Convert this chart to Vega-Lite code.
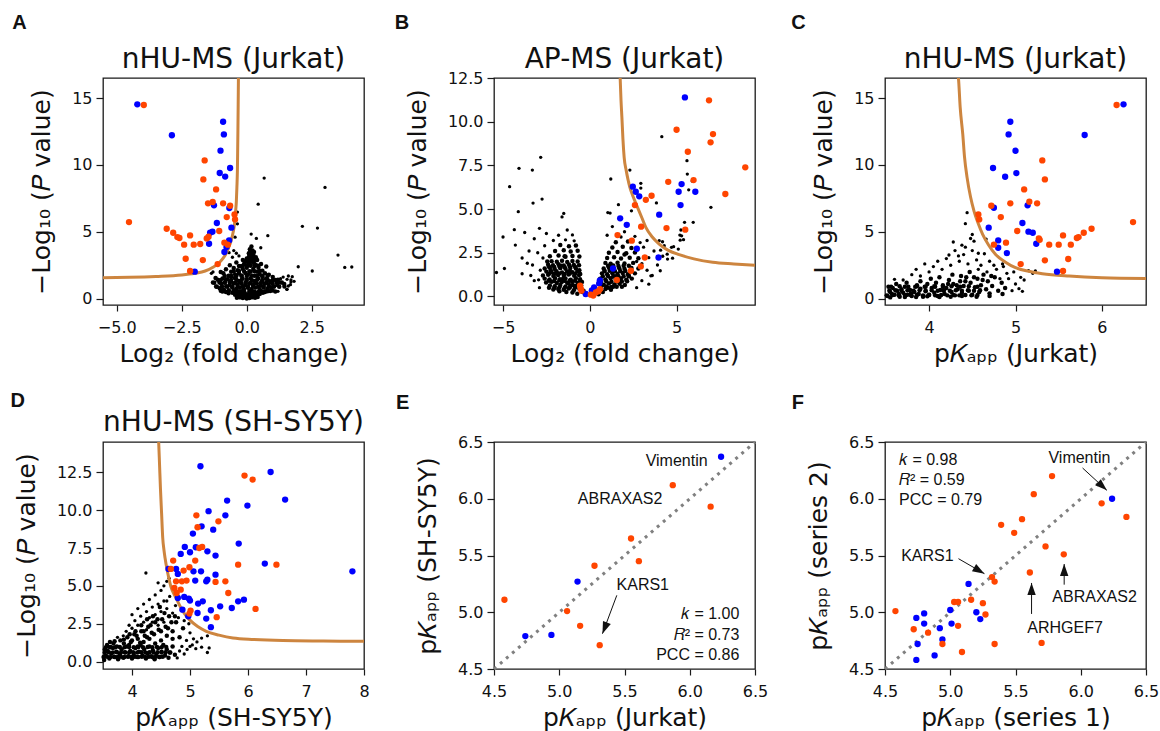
{
"$schema": "https://vega.github.io/schema/vega-lite/v6.json",
"background": "white",
"padding": {"left": 9, "top": 12, "right": 5, "bottom": 0},
"columns": 3,
"spacing": {"row": 137, "column": 130},
"bounds": "flush",
"datasets": {
"A_k": [{"x":-0.55,"y":0.45},{"x":-0.45,"y":0.3},{"x":-0.4,"y":0.52},{"x":-0.35,"y":0.2},{"x":-0.3,"y":0.4},{"x":-0.25,"y":0.1},{"x":-0.2,"y":0.3},{"x":-0.15,"y":0.05},{"x":-0.1,"y":0.22},{"x":-0.05,"y":0.1},{"x":0,"y":0.02},{"x":0.05,"y":0.15},{"x":0.1,"y":0.05},{"x":0.15,"y":0.25},{"x":0.2,"y":0.1},{"x":0.25,"y":0.35},{"x":0.3,"y":0.2},{"x":0.35,"y":0.42},{"x":0.4,"y":0.28},{"x":0.45,"y":0.5},{"x":0.5,"y":0.35},{"x":0.55,"y":0.58},{"x":-0.5,"y":0.62},{"x":0.62,"y":0.45},{"x":-0.2,"y":0.56},{"x":0.1,"y":0.46},{"x":-0.05,"y":0.36},{"x":0.2,"y":0.52},{"x":0.32,"y":0.08},{"x":-0.28,"y":0.12},{"x":0.03,"y":0.28},{"x":-0.12,"y":0.42},{"x":0.18,"y":0.38},{"x":-0.38,"y":0.08},{"x":0.42,"y":0.12},
{"x":-1.3,"y":1.22},{"x":-1.18,"y":0.92},{"x":-1.12,"y":1.42},{"x":-1.04,"y":0.78},{"x":-0.98,"y":1.12},{"x":-0.93,"y":1.52},{"x":-0.88,"y":0.68},{"x":-0.84,"y":1.24},{"x":-0.79,"y":0.94},{"x":-0.74,"y":1.46},{"x":-0.69,"y":0.64},{"x":-0.66,"y":1.02},{"x":-0.61,"y":1.31},{"x":-0.56,"y":0.83},{"x":-0.51,"y":1.13},{"x":-0.46,"y":1.55},{"x":-0.41,"y":0.72},{"x":-0.36,"y":1.04},{"x":-0.31,"y":1.33},{"x":-0.26,"y":0.84},{"x":-0.21,"y":1.14},{"x":-0.16,"y":1.52},{"x":-0.11,"y":0.73},{"x":-0.06,"y":1.03},{"x":-0.01,"y":1.34},{"x":0.04,"y":0.82},{"x":0.09,"y":1.12},{"x":0.14,"y":1.53},{"x":0.19,"y":0.72},{"x":0.24,"y":1.02},{"x":0.29,"y":1.33},{"x":0.34,"y":0.84},{"x":0.39,"y":1.13},{"x":0.44,"y":1.52},{"x":0.49,"y":0.73},{"x":0.54,"y":1.03},{"x":0.59,"y":1.32},{"x":0.64,"y":0.83},{"x":0.69,"y":1.12},{"x":0.74,"y":1.5},{"x":0.79,"y":0.76},{"x":0.84,"y":1.04},{"x":0.89,"y":1.3},{"x":0.94,"y":0.86},{"x":0.99,"y":1.16},{"x":1.04,"y":0.92},{"x":1.1,"y":1.4},{"x":1.18,"y":1.02},{"x":1.28,"y":1.22},{"x":1.44,"y":1.1},{"x":-1.2,"y":1.55},{"x":-0.6,"y":1.62},{"x":0.6,"y":1.66},{"x":1.0,"y":1.62},{"x":-1.0,"y":0.6},{"x":-0.8,"y":0.5},{"x":0.8,"y":0.55},{"x":1.0,"y":0.62},{"x":0.7,"y":0.5},{"x":-0.7,"y":0.4},
{"x":-0.9,"y":1.9},{"x":-0.8,"y":2.2},{"x":-0.7,"y":1.72},{"x":-0.65,"y":2.5},{"x":-0.6,"y":2.02},{"x":-0.5,"y":2.3},{"x":-0.45,"y":1.82},{"x":-0.4,"y":2.7},{"x":-0.35,"y":2.12},{"x":-0.3,"y":1.88},{"x":-0.25,"y":2.42},{"x":-0.2,"y":1.72},{"x":-0.15,"y":2.22},{"x":-0.1,"y":2.62},{"x":-0.05,"y":1.92},{"x":0,"y":2.32},{"x":0.05,"y":1.82},{"x":0.1,"y":2.52},{"x":0.15,"y":2.02},{"x":0.2,"y":2.8},{"x":0.25,"y":2.22},{"x":0.3,"y":1.72},{"x":0.35,"y":2.52},{"x":0.4,"y":2.02},{"x":0.45,"y":2.32},{"x":0.5,"y":1.82},{"x":0.55,"y":2.6},{"x":0.6,"y":2.1},{"x":0.7,"y":1.9},{"x":0.75,"y":2.4},{"x":0.85,"y":1.8},{"x":-1.0,"y":2.0},
{"x":0.05,"y":2.9},{"x":0.1,"y":3.2},{"x":0.15,"y":3.5},{"x":0.2,"y":3.0},{"x":0.25,"y":3.3},{"x":0.3,"y":2.9},{"x":0.12,"y":3.7},{"x":0.18,"y":3.9},{"x":0.22,"y":3.6},{"x":0.08,"y":3.4},{"x":0.28,"y":3.5},{"x":0.0,"y":3.0},{"x":-0.05,"y":2.8},{"x":0.35,"y":3.1},{"x":0.4,"y":2.9},{"x":-0.15,"y":2.9},{"x":0.16,"y":3.05},{"x":0.24,"y":2.7},{"x":0.1,"y":2.75},
{"x":-0.9,"y":0.55},{"x":-0.7,"y":0.57},{"x":-0.5,"y":0.54},{"x":-0.3,"y":0.56},{"x":-0.1,"y":0.55},{"x":0.1,"y":0.57},{"x":0.3,"y":0.54},{"x":0.5,"y":0.56},{"x":0.7,"y":0.55},{"x":0.9,"y":0.57},{"x":1.1,"y":0.54},
{"x":-1.15,"y":0.9},{"x":-0.95,"y":0.92},{"x":-0.75,"y":0.89},{"x":-0.55,"y":0.91},{"x":-0.35,"y":0.9},{"x":-0.15,"y":0.92},{"x":0.05,"y":0.89},{"x":0.25,"y":0.91},{"x":0.45,"y":0.9},{"x":0.65,"y":0.92},{"x":0.85,"y":0.89},{"x":1.05,"y":0.91},{"x":1.25,"y":0.9},{"x":1.45,"y":0.92},
{"x":-1.25,"y":1.2},{"x":-1.05,"y":1.22},{"x":-0.85,"y":1.19},{"x":-0.65,"y":1.21},{"x":-0.45,"y":1.2},{"x":-0.25,"y":1.22},{"x":-0.05,"y":1.19},{"x":0.15,"y":1.21},{"x":0.35,"y":1.2},{"x":0.55,"y":1.22},{"x":0.75,"y":1.19},{"x":0.95,"y":1.21},{"x":1.15,"y":1.2},{"x":1.35,"y":1.22},
{"x":-1.0,"y":1.4},{"x":-0.8,"y":1.42},{"x":-0.6,"y":1.39},{"x":-0.4,"y":1.41},{"x":-0.2,"y":1.4},{"x":0,"y":1.42},{"x":0.2,"y":1.39},{"x":0.4,"y":1.41},{"x":0.6,"y":1.4},{"x":0.8,"y":1.42},{"x":1.0,"y":1.39},{"x":1.2,"y":1.41},
{"x":-0.85,"y":1.7},{"x":-0.6,"y":1.72},{"x":-0.4,"y":1.69},{"x":-0.2,"y":1.71},{"x":0,"y":1.7},{"x":0.2,"y":1.72},{"x":0.4,"y":1.69},{"x":0.6,"y":1.71},{"x":0.8,"y":1.7},
{"x":-0.5,"y":2.05},{"x":-0.3,"y":2.07},{"x":-0.1,"y":2.04},{"x":0.1,"y":2.06},{"x":0.3,"y":2.05},{"x":0.5,"y":2.07},
{"x":-0.3,"y":2.45},{"x":-0.15,"y":2.47},{"x":0,"y":2.44},{"x":0.15,"y":2.46},{"x":0.3,"y":2.45},{"x":0.45,"y":2.47},
{"x":0.12,"y":2.95},{"x":0.22,"y":3.15},{"x":0.08,"y":3.1},{"x":0.18,"y":3.3},{"x":0.26,"y":3.05},{"x":0.14,"y":3.6},{"x":0.2,"y":3.45},{"x":0.06,"y":2.65},{"x":0.3,"y":2.6}],
"A_ks": [{"x":1.6,"y":0.95},{"x":1.55,"y":1.45},{"x":1.4,"y":1.62},{"x":1.7,"y":1.25},{"x":-1.36,"y":1.9},{"x":-1.3,"y":2.0},{"x":1.6,"y":1.7},{"x":1.7,"y":1.4},{"x":1.55,"y":0.7},{"x":1.2,"y":0.55},{"x":-0.95,"y":0.5},{"x":-0.3,"y":3.2},{"x":-0.4,"y":3.4},
{"x":-0.36,"y":6.48},{"x":-0.36,"y":5.6},{"x":-0.45,"y":4.6},{"x":-0.5,"y":3.6},{"x":-0.55,"y":3.1},{"x":-0.68,"y":3.44},
{"x":0.67,"y":9.02},{"x":3.01,"y":8.32},{"x":0.44,"y":7.07},{"x":2.14,"y":5.41},{"x":2.72,"y":5.28},{"x":0.81,"y":4.71},{"x":0.17,"y":4.83},{"x":0.37,"y":4.51},{"x":0.54,"y":3.81},{"x":3.51,"y":3.26},{"x":1.98,"y":2.39},{"x":2.52,"y":2.07},{"x":3.77,"y":2.34},{"x":4.04,"y":2.37},{"x":1.54,"y":0.7},{"x":1.3,"y":1.5},{"x":1.75,"y":1.65},{"x":1.68,"y":1.05},{"x":1.82,"y":1.3}],
"A_curve": [{"x":-5.53,"y":1.57},{"x":-4.5,"y":1.6},{"x":-3.5,"y":1.66},{"x":-2.5,"y":1.77},{"x":-2.0,"y":1.9},{"x":-1.6,"y":2.07},{"x":-1.3,"y":2.35},{"x":-1.06,"y":2.69},{"x":-0.9,"y":3.05},{"x":-0.8,"y":3.35},{"x":-0.7,"y":3.8},{"x":-0.6,"y":4.35},{"x":-0.52,"y":5.0},{"x":-0.47,"y":5.6},{"x":-0.43,"y":6.5},{"x":-0.4,"y":7.3},{"x":-0.38,"y":8.3},{"x":-0.36,"y":9.6},{"x":-0.35,"y":11.0},{"x":-0.34,"y":12.6},{"x":-0.33,"y":14.5},{"x":-0.32,"y":16.6},{"x":-0.315,"y":17.5}],
"A_c": [{"x":-4.21,"y":14.53,"g":"b"},{"x":-2.88,"y":12.22,"g":"b"},{"x":-0.91,"y":13.23,"g":"b"},{"x":-0.88,"y":12.28,"g":"b"},{"x":-1.01,"y":11.07,"g":"b"},{"x":-0.64,"y":9.77,"g":"b"},{"x":-1.04,"y":9.4,"g":"b"},{"x":-0.83,"y":9.13,"g":"b"},{"x":-1.26,"y":6.98,"g":"b"},{"x":-0.67,"y":6.78,"g":"b"},{"x":-1.15,"y":5.66,"g":"b"},{"x":-0.59,"y":5.31,"g":"b"},{"x":-1.32,"y":5.01,"g":"b"},{"x":-1.41,"y":4.93,"g":"b"},{"x":-0.68,"y":4.36,"g":"b"},{"x":-1.45,"y":4.11,"g":"b"},{"x":-0.78,"y":3.86,"g":"b"},{"x":-0.86,"y":3.49,"g":"b"},{"x":-2.0,"y":2.02,"g":"b"},
{"x":-3.96,"y":14.48,"g":"o"},{"x":-1.62,"y":10.34,"g":"o"},{"x":-1.67,"y":8.92,"g":"o"},{"x":-1.18,"y":8.17,"g":"o"},{"x":-1.49,"y":7.13,"g":"o"},{"x":-1.31,"y":7.23,"g":"o"},{"x":-0.91,"y":7.13,"g":"o"},{"x":-0.64,"y":6.95,"g":"o"},{"x":-0.47,"y":6.3,"g":"o"},{"x":-0.45,"y":5.93,"g":"o"},{"x":-0.77,"y":6.1,"g":"o"},{"x":-1.06,"y":5.06,"g":"o"},{"x":-4.53,"y":5.73,"g":"o"},{"x":-3.08,"y":5.23,"g":"o"},{"x":-2.83,"y":4.93,"g":"o"},{"x":-2.67,"y":4.61,"g":"o"},{"x":-2.59,"y":4.54,"g":"o"},{"x":-2.18,"y":4.73,"g":"o"},{"x":-2.41,"y":4.04,"g":"o"},{"x":-2.04,"y":4.04,"g":"o"},{"x":-1.79,"y":4.09,"g":"o"},{"x":-1.54,"y":4.51,"g":"o"},{"x":-1.47,"y":4.63,"g":"o"},{"x":-0.86,"y":4.19,"g":"o"},{"x":-0.73,"y":4.04,"g":"o"},{"x":-2.35,"y":2.99,"g":"o"},{"x":-1.69,"y":2.89,"g":"o"},{"x":-1.12,"y":2.59,"g":"o"},{"x":-2.18,"y":2.07,"g":"o"}],
"B_k": [{"x":-1.0,"y":0.22},{"x":-0.72,"y":0.15},{"x":-0.42,"y":0.25},{"x":-0.26,"y":0.1},{"x":-1.82,"y":0.42},{"x":-1.5,"y":0.38},{"x":-1.22,"y":0.45},{"x":-0.92,"y":0.36},{"x":-0.6,"y":0.44},{"x":-0.36,"y":0.33},{"x":-2.3,"y":0.62},{"x":-2.02,"y":0.58},{"x":-1.7,"y":0.66},{"x":-1.4,"y":0.57},{"x":-1.12,"y":0.63},{"x":-0.82,"y":0.6},{"x":-0.5,"y":0.64},{"x":-2.52,"y":0.8},{"x":-2.2,"y":0.84},{"x":-1.9,"y":0.77},{"x":-1.62,"y":0.83},{"x":-1.3,"y":0.78},{"x":-1.02,"y":0.85},{"x":-0.7,"y":0.79},{"x":-0.45,"y":0.82},{"x":-2.6,"y":1.02},{"x":-2.32,"y":0.97},{"x":-2.0,"y":1.04},{"x":-1.72,"y":0.98},{"x":-1.4,"y":1.03},{"x":-1.1,"y":0.96},{"x":-0.8,"y":1.04},{"x":-0.56,"y":0.98},{"x":-2.7,"y":1.2},{"x":-2.4,"y":1.24},{"x":-2.1,"y":1.17},{"x":-1.82,"y":1.22},{"x":-1.5,"y":1.18},{"x":-1.22,"y":1.25},{"x":-0.9,"y":1.19},{"x":-0.62,"y":1.22},{"x":-2.5,"y":1.42},{"x":-2.2,"y":1.38},{"x":-1.92,"y":1.44},{"x":-1.6,"y":1.37},{"x":-1.3,"y":1.43},{"x":-1.0,"y":1.39},{"x":-0.72,"y":1.42},{"x":-2.6,"y":1.6},{"x":-2.3,"y":1.64},{"x":-2.02,"y":1.57},{"x":-1.7,"y":1.62},{"x":-1.4,"y":1.58},{"x":-1.12,"y":1.63},{"x":-0.8,"y":1.6},{"x":-2.4,"y":1.82},{"x":-2.12,"y":1.78},{"x":-1.8,"y":1.84},{"x":-1.5,"y":1.77},{"x":-1.2,"y":1.83},{"x":-0.92,"y":1.8},{"x":-0.62,"y":1.78},{"x":-2.2,"y":2.02},{"x":-1.9,"y":1.98},{"x":-1.6,"y":2.04},{"x":-1.3,"y":1.97},{"x":-1.0,"y":2.03},{"x":-0.7,"y":2.0},{"x":-2.3,"y":2.3},{"x":-1.8,"y":2.34},{"x":-1.4,"y":2.27},{"x":-1.0,"y":2.32},{"x":-0.6,"y":2.28},{"x":-2.0,"y":2.6},{"x":-1.5,"y":2.64},{"x":-1.1,"y":2.57},{"x":-0.7,"y":2.62},{"x":-1.7,"y":2.94},{"x":-1.2,"y":2.87},{"x":-0.8,"y":2.92},
{"x":-2.35,"y":0.5},{"x":-2.05,"y":0.48},{"x":-1.75,"y":0.52},{"x":-1.45,"y":0.49},{"x":-1.15,"y":0.51},{"x":-0.85,"y":0.5},{"x":-0.55,"y":0.48},
{"x":-2.35,"y":0.9},{"x":-2.05,"y":0.88},{"x":-1.75,"y":0.92},{"x":-1.45,"y":0.89},{"x":-1.15,"y":0.91},{"x":-0.85,"y":0.9},{"x":-0.55,"y":0.88},
{"x":-2.35,"y":1.3},{"x":-2.05,"y":1.28},{"x":-1.75,"y":1.32},{"x":-1.45,"y":1.29},{"x":-1.15,"y":1.31},{"x":-0.85,"y":1.3},{"x":-0.55,"y":1.28},
{"x":-2.35,"y":1.7},{"x":-2.05,"y":1.68},{"x":-1.75,"y":1.72},{"x":-1.45,"y":1.69},{"x":-1.15,"y":1.71},{"x":-0.85,"y":1.7},{"x":-0.6,"y":1.5},
{"x":-1.75,"y":0.3},{"x":-1.35,"y":0.25},{"x":-2.1,"y":0.4},{"x":-1.55,"y":1.0},{"x":-1.85,"y":1.3},{"x":-1.25,"y":0.75},{"x":-1.65,"y":1.75},{"x":-1.15,"y":1.45},{"x":-2.25,"y":1.5},{"x":-0.98,"y":0.65},{"x":-1.45,"y":2.3},{"x":-2.45,"y":2.0},
{"x":0.2,"y":0.16},{"x":0.5,"y":0.12},{"x":0.32,"y":0.42},{"x":0.6,"y":0.37},{"x":0.9,"y":0.43},{"x":1.22,"y":0.38},{"x":0.5,"y":0.72},{"x":0.8,"y":0.67},{"x":1.1,"y":0.74},{"x":1.42,"y":0.68},{"x":1.72,"y":0.72},{"x":2.02,"y":0.66},{"x":0.6,"y":1.02},{"x":0.9,"y":0.97},{"x":1.2,"y":1.04},{"x":1.5,"y":0.98},{"x":1.8,"y":1.03},{"x":2.1,"y":0.96},{"x":2.42,"y":1.02},{"x":0.7,"y":1.32},{"x":1.0,"y":1.27},{"x":1.3,"y":1.33},{"x":1.6,"y":1.28},{"x":1.9,"y":1.34},{"x":2.2,"y":1.27},{"x":2.6,"y":1.32},{"x":0.8,"y":1.6},{"x":1.1,"y":1.64},{"x":1.4,"y":1.57},{"x":1.7,"y":1.62},{"x":2.0,"y":1.58},{"x":2.4,"y":1.63},{"x":2.8,"y":1.6},{"x":0.9,"y":1.92},{"x":1.2,"y":1.87},{"x":1.6,"y":1.93},{"x":2.0,"y":1.88},{"x":2.5,"y":1.92},{"x":1.0,"y":2.2},{"x":1.4,"y":2.24},{"x":1.8,"y":2.17},{"x":2.3,"y":2.22},{"x":2.8,"y":2.18},{"x":1.1,"y":2.5},{"x":1.6,"y":2.54},{"x":2.1,"y":2.47},{"x":2.6,"y":2.52},{"x":1.3,"y":2.8},{"x":1.9,"y":2.84},{"x":2.4,"y":2.77},{"x":1.5,"y":3.1},{"x":2.2,"y":3.14},
{"x":0.65,"y":0.55},{"x":0.95,"y":0.57},{"x":1.25,"y":0.54},{"x":1.55,"y":0.56},{"x":1.85,"y":0.55},
{"x":0.65,"y":0.85},{"x":0.95,"y":0.87},{"x":1.25,"y":0.84},{"x":1.55,"y":0.86},{"x":1.85,"y":0.85},{"x":2.15,"y":0.87},
{"x":0.75,"y":1.15},{"x":1.05,"y":1.17},{"x":1.35,"y":1.14},{"x":1.65,"y":1.16},{"x":1.95,"y":1.15},{"x":2.25,"y":1.17},
{"x":0.85,"y":1.45},{"x":1.15,"y":1.47},{"x":1.45,"y":1.44},{"x":1.75,"y":1.46},{"x":2.05,"y":1.45},{"x":2.35,"y":1.47},
{"x":1.05,"y":1.75},{"x":1.35,"y":1.77},{"x":1.65,"y":1.74},{"x":1.95,"y":1.76},{"x":2.25,"y":1.75},
{"x":1.35,"y":0.55},{"x":0.75,"y":0.25},{"x":1.05,"y":0.5},{"x":1.65,"y":0.9},{"x":2.25,"y":1.15},{"x":1.25,"y":1.75},{"x":0.85,"y":1.45},{"x":1.45,"y":1.15},{"x":2.0,"y":2.4}],
"B_ks": [{"x":-2.6,"y":2.9},{"x":-2.1,"y":3.2},{"x":-1.4,"y":3.24},{"x":-0.9,"y":3.18},{"x":-1.8,"y":3.5},{"x":-1.0,"y":3.52},{"x":-1.3,"y":3.8},
{"x":-1.6,"y":4.55},{"x":-1.5,"y":4.75},{"x":-2.5,"y":3.6},{"x":-3.0,"y":2.5},{"x":-3.3,"y":1.8},{"x":-3.4,"y":1.2},{"x":-3.2,"y":0.9},{"x":-2.9,"y":0.5},{"x":-2.7,"y":2.2},{"x":-2.85,"y":1.5},{"x":-2.95,"y":0.95},
{"x":-2.83,"y":7.96},{"x":-4.08,"y":7.33},{"x":-3.31,"y":7.23},{"x":-4.62,"y":6.28},{"x":-2.75,"y":5.57},{"x":-3.27,"y":5.34},{"x":-4.12,"y":4.85},{"x":-4.35,"y":3.82},{"x":-3.75,"y":3.66},{"x":-5.0,"y":3.4},{"x":-4.29,"y":2.94},{"x":-4.92,"y":1.6},{"x":-5.38,"y":1.37},{"x":-3.5,"y":2.6},{"x":-3.9,"y":2.2},{"x":-3.6,"y":1.9},{"x":-3.9,"y":1.3},{"x":-3.2,"y":3.3},{"x":-2.9,"y":3.9},
{"x":3.0,"y":1.88},{"x":3.4,"y":2.22},{"x":3.1,"y":2.82},{"x":2.9,"y":3.08},{"x":1.8,"y":3.4},{"x":2.6,"y":3.44},
{"x":3.6,"y":1.2},{"x":3.9,"y":1.8},{"x":4.2,"y":2.3},{"x":3.4,"y":0.7},{"x":3.0,"y":0.9},{"x":2.7,"y":0.5},{"x":3.3,"y":1.5},{"x":2.7,"y":2.0},{"x":3.7,"y":2.6},{"x":3.3,"y":3.2},{"x":1.0,"y":3.5},{"x":2.0,"y":3.7},{"x":1.3,"y":4.0},
{"x":4.15,"y":9.14},{"x":2.31,"y":7.23},{"x":1.21,"y":6.72},{"x":5.6,"y":7.77},{"x":2.94,"y":6.47},{"x":2.94,"y":6.2},{"x":6.98,"y":5.1},{"x":5.96,"y":4.24},{"x":5.46,"y":4.24},{"x":5.25,"y":3.8},{"x":5.29,"y":3.47},{"x":5.21,"y":3.22},{"x":4.71,"y":2.81},{"x":5.1,"y":2.71},{"x":4.0,"y":3.19},{"x":4.29,"y":2.9},{"x":4.46,"y":2.42},{"x":4.77,"y":2.19},{"x":3.84,"y":5.35},{"x":2.4,"y":4.9},{"x":1.65,"y":5.25},{"x":1.17,"y":4.77},{"x":1.04,"y":4.8},{"x":4.83,"y":2.85},{"x":4.19,"y":3.13},{"x":4.48,"y":2.14},{"x":4.06,"y":1.47},{"x":3.52,"y":1.18},{"x":4.08,"y":2.65},{"x":5.19,"y":3.51},{"x":5.4,"y":3.25},{"x":5.62,"y":7.0},{"x":5.9,"y":6.6},{"x":5.7,"y":6.1}],
"B_curve": [{"x":1.74,"y":12.8},{"x":1.75,"y":12.5},{"x":1.8,"y":11.2},{"x":1.85,"y":10.25},{"x":1.91,"y":9.0},{"x":1.98,"y":7.96},{"x":2.1,"y":7.2},{"x":2.2,"y":6.7},{"x":2.31,"y":6.24},{"x":2.5,"y":5.7},{"x":2.75,"y":5.1},{"x":3.0,"y":4.5},{"x":3.23,"y":3.95},{"x":3.6,"y":3.4},{"x":4.0,"y":3.0},{"x":4.5,"y":2.65},{"x":5.15,"y":2.39},{"x":6.0,"y":2.15},{"x":7.08,"y":1.95},{"x":8.3,"y":1.86},{"x":9.52,"y":1.79}],
"B_c": [{"x":5.48,"y":11.39,"g":"b"},{"x":2.48,"y":6.28,"g":"b"},{"x":2.65,"y":5.99,"g":"b"},{"x":2.85,"y":5.73,"g":"b"},{"x":5.29,"y":6.43,"g":"b"},{"x":5.12,"y":5.99,"g":"b"},{"x":6.08,"y":5.99,"g":"b"},{"x":5.23,"y":5.23,"g":"b"},{"x":4.0,"y":4.68,"g":"b"},{"x":1.75,"y":4.47,"g":"b"},{"x":2.13,"y":4.1,"g":"b"},{"x":2.71,"y":2.73,"g":"b"},{"x":3.96,"y":2.23,"g":"b"},{"x":1.34,"y":1.6,"g":"b"},{"x":0.58,"y":0.92,"g":"b"},{"x":0.55,"y":0.75,"g":"b"},{"x":0.25,"y":0.52,"g":"b"},{"x":0.12,"y":0.35,"g":"b"},{"x":-0.23,"y":0.14,"g":"b"},
{"x":6.87,"y":11.22,"g":"o"},{"x":5.0,"y":9.54,"g":"o"},{"x":7.1,"y":9.29,"g":"o"},{"x":6.96,"y":8.82,"g":"o"},{"x":5.65,"y":8.28,"g":"o"},{"x":8.96,"y":7.39,"g":"o"},{"x":4.52,"y":6.56,"g":"o"},{"x":5.98,"y":6.66,"g":"o"},{"x":7.81,"y":5.86,"g":"o"},{"x":3.56,"y":5.76,"g":"o"},{"x":3.23,"y":5.53,"g":"o"},{"x":2.6,"y":5.23,"g":"o"},{"x":4.42,"y":3.91,"g":"o"},{"x":5.5,"y":3.82,"g":"o"},{"x":2.96,"y":3.99,"g":"o"},{"x":1.6,"y":3.51,"g":"o"},{"x":2.42,"y":3.19,"g":"o"},{"x":3.17,"y":2.23,"g":"o"},{"x":2.94,"y":1.72,"g":"o"},{"x":2.37,"y":1.47,"g":"o"},{"x":1.56,"y":0.94,"g":"o"},{"x":-0.56,"y":0.61,"g":"o"},{"x":-0.48,"y":0.33,"g":"o"},{"x":-0.52,"y":0.45,"g":"o"},{"x":0.06,"y":0.1,"g":"o"},{"x":0.35,"y":0.23,"g":"o"},{"x":0.59,"y":0.42,"g":"o"},{"x":0.5,"y":0.3,"g":"o"},{"x":0.2,"y":0.05,"g":"o"}],
"C_k": [{"x":3.52,"y":0.2},{"x":3.55,"y":0.5},{"x":3.58,"y":0.8},{"x":3.6,"y":0.3},{"x":3.63,"y":0.6},{"x":3.66,"y":0.15},{"x":3.7,"y":0.45},{"x":3.72,"y":0.9},{"x":3.75,"y":0.3},{"x":3.78,"y":0.65},{"x":3.8,"y":0.2},{"x":3.83,"y":0.5},{"x":3.86,"y":1.0},{"x":3.88,"y":0.35},{"x":3.9,"y":0.75},{"x":3.93,"y":0.15},{"x":3.96,"y":0.55},{"x":3.98,"y":1.1},{"x":4.0,"y":0.3},{"x":4.03,"y":0.8},{"x":4.06,"y":0.45},{"x":4.08,"y":1.2},{"x":4.1,"y":0.2},{"x":4.13,"y":0.65},{"x":4.16,"y":1.0},{"x":4.18,"y":0.35},{"x":4.2,"y":0.8},{"x":4.23,"y":1.4},{"x":4.26,"y":0.5},{"x":4.28,"y":1.1},{"x":4.3,"y":0.25},{"x":4.33,"y":0.7},{"x":4.36,"y":1.3},{"x":4.38,"y":0.45},{"x":4.4,"y":0.95},{"x":4.43,"y":1.6},{"x":4.46,"y":0.6},{"x":4.48,"y":1.2},{"x":4.5,"y":0.3},{"x":4.53,"y":0.85},{"x":4.56,"y":1.5},{"x":4.58,"y":0.5},{"x":4.6,"y":1.0},{"x":4.63,"y":1.8},{"x":4.66,"y":0.7},{"x":4.68,"y":1.3},{"x":4.7,"y":0.4},{"x":4.73,"y":0.95},{"x":4.76,"y":1.6},{"x":4.8,"y":0.6},{"x":4.84,"y":1.2},{"x":4.88,"y":0.8},
{"x":3.53,"y":0.9},{"x":3.57,"y":0.35},{"x":3.62,"y":1.1},{"x":3.68,"y":0.7},{"x":3.74,"y":1.2},{"x":3.79,"y":0.4},{"x":3.84,"y":0.9},{"x":3.9,"y":1.3},{"x":3.95,"y":0.9},{"x":4.02,"y":1.5},{"x":4.07,"y":0.9},{"x":4.12,"y":1.6},{"x":4.17,"y":0.6},{"x":4.22,"y":1.1},{"x":4.27,"y":1.8},{"x":4.32,"y":1.0},{"x":4.37,"y":1.7},{"x":4.42,"y":1.3},{"x":4.47,"y":2.0},{"x":4.52,"y":1.6},{"x":4.62,"y":1.4},{"x":4.72,"y":1.7},
{"x":3.55,"y":0.1},{"x":3.65,"y":0.35},{"x":3.72,"y":0.12},{"x":3.85,"y":0.12},{"x":3.98,"y":0.18},{"x":4.12,"y":0.12},{"x":4.25,"y":0.15},{"x":4.38,"y":0.2},{"x":4.55,"y":0.15},{"x":4.7,"y":0.2},{"x":4.85,"y":0.35},
{"x":3.51,"y":0.25},{"x":3.58,"y":0.28},{"x":3.65,"y":0.25},{"x":3.72,"y":0.28},{"x":3.79,"y":0.25},{"x":3.86,"y":0.28},{"x":3.93,"y":0.25},{"x":4.0,"y":0.28},{"x":4.07,"y":0.25},{"x":4.14,"y":0.28},{"x":4.21,"y":0.25},{"x":4.28,"y":0.28},{"x":4.35,"y":0.25},{"x":4.42,"y":0.28},{"x":4.49,"y":0.25},{"x":4.56,"y":0.28},
{"x":3.54,"y":0.6},{"x":3.61,"y":0.63},{"x":3.68,"y":0.6},{"x":3.75,"y":0.63},{"x":3.82,"y":0.6},{"x":3.89,"y":0.63},{"x":3.96,"y":0.6},{"x":4.03,"y":0.63},{"x":4.1,"y":0.6},{"x":4.17,"y":0.63},{"x":4.24,"y":0.6},{"x":4.31,"y":0.63},{"x":4.38,"y":0.6},{"x":4.45,"y":0.63},{"x":4.52,"y":0.6},{"x":4.59,"y":0.63},
{"x":3.56,"y":0.9},{"x":3.66,"y":0.93},{"x":3.76,"y":0.9},{"x":3.86,"y":0.93},{"x":3.96,"y":0.9},{"x":4.06,"y":0.93},{"x":4.16,"y":0.9},{"x":4.26,"y":0.93},{"x":4.36,"y":0.9},{"x":4.46,"y":0.93},{"x":4.56,"y":0.9}],
"C_ks": [{"x":4.92,"y":1.5},{"x":4.96,"y":0.6},{"x":5.0,"y":1.1},{"x":5.04,"y":0.75},{"x":5.08,"y":0.55},{"x":5.1,"y":1.4},{"x":5.06,"y":1.6},{"x":4.98,"y":2.0},{"x":5.2,"y":1.9},{"x":5.23,"y":2.07},{"x":5.15,"y":2.1},{"x":4.9,"y":1.9},{"x":4.57,"y":2.2},{"x":4.67,"y":2.0},{"x":4.78,"y":2.2},{"x":4.82,"y":1.5},{"x":4.86,"y":2.4},
{"x":3.6,"y":1.45},{"x":3.7,"y":1.4},{"x":3.8,"y":1.8},{"x":3.85,"y":2.2},{"x":3.9,"y":1.7},{"x":3.95,"y":2.6},{"x":4.0,"y":2.0},{"x":4.05,"y":2.4},{"x":4.1,"y":2.8},{"x":4.15,"y":2.2},{"x":4.2,"y":3.0},{"x":4.23,"y":3.27},{"x":4.25,"y":2.5},{"x":4.3,"y":3.6},{"x":4.34,"y":3.2},{"x":4.35,"y":2.8},{"x":4.38,"y":4.0},{"x":4.4,"y":3.3},{"x":4.42,"y":3.85},{"x":4.45,"y":2.6},{"x":4.48,"y":4.5},{"x":4.5,"y":3.6},{"x":4.52,"y":4.3},{"x":4.55,"y":2.9},{"x":4.57,"y":3.4},{"x":4.6,"y":2.5},{"x":4.64,"y":3.36},{"x":4.66,"y":4.46},{"x":4.7,"y":2.8},{"x":4.28,"y":4.24},{"x":4.42,"y":5.61},{"x":4.44,"y":6.43},{"x":4.5,"y":4.8},{"x":4.75,"y":2.5},{"x":4.85,"y":2.6}],
"C_curve": [{"x":4.33,"y":16.9},{"x":4.34,"y":16.47},{"x":4.36,"y":14.3},{"x":4.39,"y":12.28},{"x":4.41,"y":10.6},{"x":4.44,"y":9.05},{"x":4.48,"y":7.6},{"x":4.52,"y":6.55},{"x":4.57,"y":5.6},{"x":4.62,"y":4.81},{"x":4.69,"y":4.0},{"x":4.77,"y":3.31},{"x":4.88,"y":2.75},{"x":5.0,"y":2.32},{"x":5.15,"y":2.05},{"x":5.31,"y":1.87},{"x":5.62,"y":1.69},{"x":6.0,"y":1.57},{"x":6.51,"y":1.52}],
"C_c": [{"x":6.25,"y":14.53,"g":"b"},{"x":4.94,"y":13.23,"g":"b"},{"x":4.92,"y":12.28,"g":"b"},{"x":5.0,"y":11.06,"g":"b"},{"x":5.8,"y":12.24,"g":"b"},{"x":4.74,"y":9.77,"g":"b"},{"x":5.01,"y":9.39,"g":"b"},{"x":4.88,"y":9.12,"g":"b"},{"x":4.75,"y":6.8,"g":"b"},{"x":5.14,"y":6.98,"g":"b"},{"x":5.08,"y":5.66,"g":"b"},{"x":4.69,"y":5.31,"g":"b"},{"x":5.15,"y":5.01,"g":"b"},{"x":5.2,"y":4.93,"g":"b"},{"x":4.8,"y":4.36,"g":"b"},{"x":5.24,"y":4.11,"g":"b"},{"x":4.8,"y":3.81,"g":"b"},{"x":4.9,"y":3.41,"g":"b"},{"x":5.48,"y":2.02,"g":"b"},
{"x":6.17,"y":14.48,"g":"o"},{"x":5.31,"y":10.34,"g":"o"},{"x":5.34,"y":8.92,"g":"o"},{"x":5.1,"y":8.17,"g":"o"},{"x":5.16,"y":7.25,"g":"o"},{"x":5.25,"y":7.13,"g":"o"},{"x":4.94,"y":7.13,"g":"o"},{"x":4.72,"y":6.95,"g":"o"},{"x":4.57,"y":6.3,"g":"o"},{"x":4.58,"y":5.93,"g":"o"},{"x":4.83,"y":6.1,"g":"o"},{"x":5.02,"y":5.06,"g":"o"},{"x":6.36,"y":5.73,"g":"o"},{"x":5.88,"y":5.23,"g":"o"},{"x":5.79,"y":4.93,"g":"o"},{"x":5.73,"y":4.61,"g":"o"},{"x":5.71,"y":4.54,"g":"o"},{"x":5.55,"y":4.73,"g":"o"},{"x":5.5,"y":4.04,"g":"o"},{"x":5.39,"y":4.04,"g":"o"},{"x":5.64,"y":4.04,"g":"o"},{"x":5.27,"y":4.51,"g":"o"},{"x":5.28,"y":4.4,"g":"o"},{"x":4.89,"y":4.19,"g":"o"},{"x":4.75,"y":4.04,"g":"o"},{"x":5.34,"y":2.87,"g":"o"},{"x":5.61,"y":2.97,"g":"o"},{"x":5.06,"y":2.59,"g":"o"},{"x":5.55,"y":2.07,"g":"o"}],
"D_k": [{"x":3.52,"y":0.1},{"x":3.55,"y":0.4},{"x":3.58,"y":0.7},{"x":3.61,"y":0.2},{"x":3.64,"y":0.55},{"x":3.67,"y":0.9},{"x":3.7,"y":0.3},{"x":3.73,"y":0.65},{"x":3.76,"y":0.15},{"x":3.79,"y":0.45},{"x":3.82,"y":0.8},{"x":3.85,"y":0.25},{"x":3.88,"y":0.6},{"x":3.91,"y":1.0},{"x":3.94,"y":0.35},{"x":3.97,"y":0.7},{"x":4.0,"y":0.2},{"x":4.03,"y":0.5},{"x":4.06,"y":0.9},{"x":4.09,"y":0.3},{"x":4.12,"y":0.65},{"x":4.15,"y":1.1},{"x":4.18,"y":0.4},{"x":4.21,"y":0.8},{"x":4.24,"y":0.2},{"x":4.27,"y":0.55},{"x":4.3,"y":1.0},{"x":4.33,"y":0.35},{"x":4.36,"y":0.75},{"x":4.39,"y":0.15},{"x":4.42,"y":0.5},{"x":4.45,"y":0.9},{"x":4.48,"y":0.3},{"x":4.51,"y":0.65},{"x":4.54,"y":1.1},{"x":4.57,"y":0.4},{"x":4.6,"y":0.8},{"x":4.63,"y":0.25},{"x":4.66,"y":0.6},{"x":4.7,"y":1.0},{"x":4.74,"y":0.45},
{"x":3.53,"y":0.8},{"x":3.57,"y":1.1},{"x":3.62,"y":0.95},{"x":3.68,"y":1.2},{"x":3.74,"y":1.0},{"x":3.8,"y":1.4},{"x":3.86,"y":1.2},{"x":3.92,"y":1.6},{"x":3.98,"y":1.3},{"x":4.04,"y":1.8},{"x":4.1,"y":1.5},{"x":4.16,"y":2.0},{"x":4.22,"y":1.7},{"x":4.28,"y":2.3},{"x":4.34,"y":1.9},{"x":4.4,"y":2.6},{"x":4.46,"y":2.1},{"x":4.52,"y":2.8},{"x":4.58,"y":2.3},{"x":4.64,"y":3.0},{"x":4.7,"y":2.0},{"x":4.76,"y":2.6},{"x":4.82,"y":1.6},{"x":4.88,"y":2.2},{"x":4.7,"y":1.5},{"x":4.6,"y":1.7},{"x":4.5,"y":1.4},{"x":4.4,"y":1.2},{"x":4.3,"y":1.5},{"x":4.2,"y":1.3},{"x":4.1,"y":1.0},{"x":3.95,"y":1.1},
{"x":3.51,"y":0.3},{"x":3.57,"y":0.32},{"x":3.63,"y":0.3},{"x":3.69,"y":0.32},{"x":3.75,"y":0.3},{"x":3.81,"y":0.32},{"x":3.87,"y":0.3},{"x":3.93,"y":0.32},{"x":3.99,"y":0.3},{"x":4.05,"y":0.32},{"x":4.11,"y":0.3},{"x":4.17,"y":0.32},{"x":4.23,"y":0.3},{"x":4.29,"y":0.32},{"x":4.35,"y":0.3},{"x":4.41,"y":0.32},{"x":4.47,"y":0.3},{"x":4.53,"y":0.32},
{"x":3.53,"y":0.6},{"x":3.6,"y":0.62},{"x":3.67,"y":0.6},{"x":3.74,"y":0.62},{"x":3.81,"y":0.6},{"x":3.88,"y":0.62},{"x":3.95,"y":0.6},{"x":4.02,"y":0.62},{"x":4.09,"y":0.6},{"x":4.16,"y":0.62},{"x":4.23,"y":0.6},{"x":4.3,"y":0.62},{"x":4.37,"y":0.6},{"x":4.44,"y":0.62},{"x":4.51,"y":0.6},{"x":4.58,"y":0.62},{"x":4.65,"y":0.6},
{"x":3.55,"y":0.95},{"x":3.63,"y":0.97},{"x":3.71,"y":0.95},{"x":3.79,"y":0.97},{"x":3.87,"y":0.95},{"x":3.95,"y":0.97},{"x":4.03,"y":0.95},{"x":4.11,"y":0.97},{"x":4.19,"y":0.95},{"x":4.27,"y":0.97},{"x":4.35,"y":0.95},{"x":4.43,"y":0.97},{"x":4.51,"y":0.95},{"x":4.59,"y":0.97},
{"x":4.0,"y":1.4},{"x":4.08,"y":1.7},{"x":4.14,"y":1.25},{"x":4.2,"y":2.0},{"x":4.26,"y":1.6},{"x":4.32,"y":2.4},{"x":4.38,"y":1.8},{"x":4.44,"y":2.8},{"x":4.5,"y":2.0},{"x":4.56,"y":3.2},{"x":4.62,"y":2.2},{"x":4.68,"y":2.6},{"x":4.74,"y":3.0},{"x":4.36,"y":3.0},{"x":4.48,"y":3.6},{"x":4.26,"y":2.8},{"x":4.16,"y":2.4},{"x":4.06,"y":2.0},{"x":3.96,"y":1.8},{"x":3.86,"y":1.45},{"x":3.7,"y":1.35},{"x":3.62,"y":1.3}],
"D_ks": [{"x":4.78,"y":0.24},{"x":4.82,"y":0.7},{"x":4.86,"y":1.0},{"x":4.9,"y":0.5},{"x":4.95,"y":0.8},{"x":5.0,"y":1.0},{"x":5.04,"y":1.1},{"x":5.1,"y":0.85},{"x":5.2,"y":0.95},{"x":5.33,"y":0.9},{"x":5.3,"y":0.6},{"x":4.94,"y":1.4},{"x":5.0,"y":1.9},{"x":5.06,"y":1.5},{"x":5.12,"y":1.3},{"x":5.2,"y":1.55},{"x":5.3,"y":1.7},{"x":4.98,"y":2.5},
{"x":3.9,"y":2.0},{"x":3.95,"y":2.4},{"x":4.0,"y":2.2},{"x":4.05,"y":2.7},{"x":4.1,"y":2.4},{"x":4.15,"y":3.0},{"x":4.2,"y":2.6},{"x":4.25,"y":3.3},{"x":4.3,"y":2.9},{"x":4.35,"y":3.6},{"x":4.4,"y":3.1},{"x":4.45,"y":3.8},{"x":4.5,"y":3.3},{"x":4.55,"y":4.0},{"x":4.6,"y":3.5},{"x":4.65,"y":4.3},{"x":4.7,"y":3.2},{"x":4.75,"y":3.7},{"x":4.8,"y":2.9},{"x":4.85,"y":3.4},{"x":4.9,"y":2.7},{"x":4.55,"y":2.6},{"x":4.45,"y":2.4},{"x":4.35,"y":2.6},{"x":4.25,"y":2.1},{"x":4.1,"y":3.5},{"x":4.2,"y":3.8},{"x":4.3,"y":4.1},{"x":4.4,"y":4.4},{"x":4.5,"y":4.7},{"x":4.55,"y":5.0},{"x":4.6,"y":5.3},{"x":4.64,"y":5.5},{"x":4.24,"y":5.85},{"x":4.45,"y":5.2},{"x":3.85,"y":1.7},{"x":3.75,"y":1.6},{"x":4.0,"y":3.1},{"x":4.6,"y":4.0}],
"D_curve": [{"x":4.455,"y":14.9},{"x":4.46,"y":14.5},{"x":4.475,"y":13.0},{"x":4.49,"y":11.47},{"x":4.51,"y":9.8},{"x":4.53,"y":8.16},{"x":4.55,"y":7.4},{"x":4.57,"y":6.84},{"x":4.61,"y":5.96},{"x":4.67,"y":4.95},{"x":4.76,"y":4.2},{"x":4.86,"y":3.43},{"x":4.99,"y":2.77},{"x":5.14,"y":2.3},{"x":5.28,"y":2.0},{"x":5.5,"y":1.75},{"x":5.74,"y":1.56},{"x":6.1,"y":1.46},{"x":6.6,"y":1.39},{"x":7.3,"y":1.36},{"x":8.0,"y":1.34}],
"D_c": [{"x":5.18,"y":12.9,"g":"b"},{"x":6.39,"y":12.52,"g":"b"},{"x":6.64,"y":10.7,"g":"b"},{"x":5.64,"y":10.63,"g":"b"},{"x":5.99,"y":10.3,"g":"b"},{"x":5.32,"y":9.93,"g":"b"},{"x":5.61,"y":9.66,"g":"b"},{"x":5.2,"y":8.93,"g":"b"},{"x":5.4,"y":8.71,"g":"b"},{"x":5.05,"y":8.45,"g":"b"},{"x":5.84,"y":7.79,"g":"b"},{"x":4.91,"y":7.57,"g":"b"},{"x":5.1,"y":7.55,"g":"b"},{"x":4.84,"y":7.11,"g":"b"},{"x":5.0,"y":7.22,"g":"b"},{"x":5.3,"y":7.28,"g":"b"},{"x":5.44,"y":7.0,"g":"b"},{"x":6.29,"y":6.47,"g":"b"},{"x":7.8,"y":5.96,"g":"b"},{"x":4.63,"y":6.12,"g":"b"},{"x":4.76,"y":6.12,"g":"b"},{"x":4.79,"y":5.79,"g":"b"},{"x":5.06,"y":5.96,"g":"b"},{"x":5.19,"y":5.96,"g":"b"},{"x":5.44,"y":5.74,"g":"b"},{"x":5.09,"y":5.35,"g":"b"},{"x":5.28,"y":5.3,"g":"b"},{"x":5.3,"y":5.41,"g":"b"},{"x":4.79,"y":4.2,"g":"b"},{"x":4.9,"y":4.27,"g":"b"},{"x":4.98,"y":4.16,"g":"b"},{"x":5.0,"y":4.03,"g":"b"},{"x":5.22,"y":3.98,"g":"b"},{"x":5.14,"y":3.83,"g":"b"},{"x":5.52,"y":3.65,"g":"b"},{"x":5.72,"y":3.54,"g":"b"},{"x":5.83,"y":3.98,"g":"b"},{"x":5.93,"y":4.09,"g":"b"},{"x":4.87,"y":3.43,"g":"b"},{"x":5.13,"y":3.21,"g":"b"},{"x":4.97,"y":2.99,"g":"b"},{"x":5.28,"y":2.84,"g":"b"},{"x":5.36,"y":3.39,"g":"b"},{"x":5.36,"y":2.27,"g":"b"},
{"x":5.94,"y":12.28,"g":"o"},{"x":6.08,"y":12.02,"g":"o"},{"x":5.11,"y":9.66,"g":"o"},{"x":5.49,"y":9.26,"g":"o"},{"x":5.13,"y":8.87,"g":"o"},{"x":5.16,"y":7.5,"g":"o"},{"x":5.21,"y":7.57,"g":"o"},{"x":4.71,"y":6.67,"g":"o"},{"x":4.67,"y":6.12,"g":"o"},{"x":4.89,"y":6.01,"g":"o"},{"x":4.99,"y":6.23,"g":"o"},{"x":5.09,"y":6.67,"g":"o"},{"x":5.83,"y":6.4,"g":"o"},{"x":6.49,"y":6.4,"g":"o"},{"x":4.76,"y":5.3,"g":"o"},{"x":4.86,"y":5.3,"g":"o"},{"x":4.94,"y":5.35,"g":"o"},{"x":4.73,"y":4.86,"g":"o"},{"x":4.84,"y":4.75,"g":"o"},{"x":4.77,"y":4.53,"g":"o"},{"x":5.44,"y":5.26,"g":"o"},{"x":5.61,"y":5.3,"g":"o"},{"x":5.66,"y":4.53,"g":"o"},{"x":6.13,"y":3.48,"g":"o"},{"x":5.01,"y":3.37,"g":"o"},{"x":4.99,"y":3.17,"g":"o"},{"x":5.46,"y":2.93,"g":"o"}],
"E_c": [{"x":6.24,"y":6.37,"g":"b"},{"x":5.14,"y":5.27,"g":"b"},{"x":4.74,"y":4.79,"g":"b"},{"x":4.94,"y":4.8,"g":"b"},{"x":5.87,"y":6.12,"g":"o"},{"x":6.16,"y":5.93,"g":"o"},{"x":5.55,"y":5.65,"g":"o"},{"x":5.61,"y":5.45,"g":"o"},{"x":5.27,"y":5.41,"g":"o"},{"x":4.58,"y":5.11,"g":"o"},{"x":5.06,"y":5.01,"g":"o"},{"x":5.16,"y":4.88,"g":"o"},{"x":5.31,"y":4.71,"g":"o"}],
"F_c": [{"x":6.24,"y":6.0,"g":"b"},{"x":5.14,"y":5.25,"g":"b"},{"x":5.0,"y":5.02,"g":"b"},{"x":5.01,"y":4.9,"g":"b"},{"x":5.2,"y":5.0,"g":"b"},{"x":5.23,"y":4.94,"g":"b"},{"x":4.8,"y":4.99,"g":"b"},{"x":4.74,"y":4.95,"g":"b"},{"x":4.8,"y":4.9,"g":"b"},{"x":4.92,"y":4.86,"g":"b"},{"x":4.94,"y":4.76,"g":"b"},{"x":4.75,"y":4.72,"g":"b"},{"x":4.88,"y":4.62,"g":"b"},{"x":4.74,"y":4.58,"g":"b"},
{"x":5.78,"y":6.2,"g":"o"},{"x":5.64,"y":6.04,"g":"o"},{"x":6.16,"y":5.96,"g":"o"},{"x":6.35,"y":5.84,"g":"o"},{"x":5.55,"y":5.82,"g":"o"},{"x":5.39,"y":5.77,"g":"o"},{"x":5.49,"y":5.7,"g":"o"},{"x":5.73,"y":5.58,"g":"o"},{"x":5.87,"y":5.51,"g":"o"},{"x":5.61,"y":5.35,"g":"o"},{"x":5.32,"y":5.31,"g":"o"},{"x":5.34,"y":5.27,"g":"o"},{"x":5.03,"y":5.09,"g":"o"},{"x":5.06,"y":5.09,"g":"o"},{"x":5.16,"y":5.11,"g":"o"},{"x":5.25,"y":5.08,"g":"o"},{"x":5.27,"y":4.98,"g":"o"},{"x":4.58,"y":5.01,"g":"o"},{"x":4.72,"y":4.85,"g":"o"},{"x":4.83,"y":4.82,"g":"o"},{"x":5.06,"y":4.88,"g":"o"},{"x":4.94,"y":4.72,"g":"o"},{"x":5.09,"y":4.65,"g":"o"},{"x":5.34,"y":4.72,"g":"o"},{"x":5.7,"y":4.73,"g":"o"}]
},
"concat": [
{"width":261,"height":227,
 "layer":[
  {"data":{"name":"A_k"},"mark":{"type":"circle","color":"#000","size":20,"opacity":1},
   "encoding":{"x":{"field":"x","type":"quantitative","scale":{"domain":[-5.53,4.51],"nice":false,"zero":false},"axis":{"values":[-5,-2.5,0,2.5],"format":".1f","title":"Log₂ (fold change)"}},
    "y":{"field":"y","type":"quantitative","scale":{"domain":[-0.47,16.5],"nice":false,"zero":false},"axis":{"values":[0,5,10,15],"format":"d","title":"−Log₁₀ (𝑃 value)"}}}},
  {"data":{"name":"A_ks"},"mark":{"type":"circle","color":"#000","size":11,"opacity":1},"encoding":{"x":{"field":"x","type":"quantitative"},"y":{"field":"y","type":"quantitative"}}},
  {"data":{"name":"A_curve"},"mark":{"type":"line","color":"#cd853f","strokeWidth":3,"clip":true,"interpolate":"monotone"},"encoding":{"x":{"field":"x","type":"quantitative"},"y":{"field":"y","type":"quantitative"}}},
  {"data":{"name":"A_c"},"mark":{"type":"circle","size":40,"opacity":1},"encoding":{"x":{"field":"x","type":"quantitative"},"y":{"field":"y","type":"quantitative"},"color":{"field":"g","type":"nominal","scale":{"domain":["b","o"],"range":["#0000ff","#ff4500"]},"legend":null}}},
  {"data":{"values":[{}]},"mark":{"type":"text","text":"nHU-MS (Jurkat)","font":"DejaVu Sans","fontSize":28,"baseline":"alphabetic","align":"center"},"encoding":{"x":{"datum":-0.51},"y":{"datum":17.25}}},
  {"data":{"values":[{}]},"mark":{"type":"text","text":"A","font":"Liberation Sans","fontWeight":"bold","fontSize":20,"baseline":"middle","align":"center"},"encoding":{"x":{"datum":-8.74},"y":{"datum":20.61}}}
 ]},
{"width":261,"height":227,
 "layer":[
  {"data":{"name":"B_k"},"mark":{"type":"circle","color":"#000","size":20,"opacity":1},
   "encoding":{"x":{"field":"x","type":"quantitative","scale":{"domain":[-5.52,9.52],"nice":false,"zero":false},"axis":{"values":[-5,0,5],"format":"d","title":"Log₂ (fold change)"}},
    "y":{"field":"y","type":"quantitative","scale":{"domain":[-0.49,12.5],"nice":false,"zero":false},"axis":{"values":[0,2.5,5,7.5,10,12.5],"format":".1f","title":"−Log₁₀ (𝑃 value)"}}}},
  {"data":{"name":"B_ks"},"mark":{"type":"circle","color":"#000","size":11,"opacity":1},"encoding":{"x":{"field":"x","type":"quantitative"},"y":{"field":"y","type":"quantitative"}}},
  {"data":{"name":"B_curve"},"mark":{"type":"line","color":"#cd853f","strokeWidth":3,"clip":true,"interpolate":"monotone"},"encoding":{"x":{"field":"x","type":"quantitative"},"y":{"field":"y","type":"quantitative"}}},
  {"data":{"name":"B_c"},"mark":{"type":"circle","size":40,"opacity":1},"encoding":{"x":{"field":"x","type":"quantitative"},"y":{"field":"y","type":"quantitative"},"color":{"field":"g","type":"nominal","scale":{"domain":["b","o"],"range":["#0000ff","#ff4500"]},"legend":null}}},
  {"data":{"values":[{}]},"mark":{"type":"text","text":"AP-MS (Jurkat)","font":"DejaVu Sans","fontSize":28,"baseline":"alphabetic","align":"center"},"encoding":{"x":{"datum":2.0},"y":{"datum":13.07}}},
  {"data":{"values":[{}]},"mark":{"type":"text","text":"B","font":"Liberation Sans","fontWeight":"bold","fontSize":20,"baseline":"middle","align":"center"},"encoding":{"x":{"datum":-10.82},"y":{"datum":15.65}}}
 ]},
{"width":261,"height":227,
 "layer":[
  {"data":{"name":"C_k"},"mark":{"type":"circle","color":"#000","size":20,"opacity":1},
   "encoding":{"x":{"field":"x","type":"quantitative","scale":{"domain":[3.49,6.51],"nice":false,"zero":false},"axis":{"values":[4,5,6],"format":"d","title":"p𝐾ₐₚₚ (Jurkat)"}},
    "y":{"field":"y","type":"quantitative","scale":{"domain":[-0.47,16.5],"nice":false,"zero":false},"axis":{"values":[0,5,10,15],"format":"d","title":"−Log₁₀ (𝑃 value)"}}}},
  {"data":{"name":"C_ks"},"mark":{"type":"circle","color":"#000","size":11,"opacity":1},"encoding":{"x":{"field":"x","type":"quantitative"},"y":{"field":"y","type":"quantitative"}}},
  {"data":{"name":"C_curve"},"mark":{"type":"line","color":"#cd853f","strokeWidth":3,"clip":true,"interpolate":"monotone"},"encoding":{"x":{"field":"x","type":"quantitative"},"y":{"field":"y","type":"quantitative"}}},
  {"data":{"name":"C_c"},"mark":{"type":"circle","size":40,"opacity":1},"encoding":{"x":{"field":"x","type":"quantitative"},"y":{"field":"y","type":"quantitative"},"color":{"field":"g","type":"nominal","scale":{"domain":["b","o"],"range":["#0000ff","#ff4500"]},"legend":null}}},
  {"data":{"values":[{}]},"mark":{"type":"text","text":"nHU-MS (Jurkat)","font":"DejaVu Sans","fontSize":28,"baseline":"alphabetic","align":"center"},"encoding":{"x":{"datum":5.0},"y":{"datum":17.25}}},
  {"data":{"values":[{}]},"mark":{"type":"text","text":"C","font":"Liberation Sans","fontWeight":"bold","fontSize":20,"baseline":"middle","align":"center"},"encoding":{"x":{"datum":2.49},"y":{"datum":20.61}}}
 ]},
{"width":261,"height":227,
 "layer":[
  {"data":{"name":"D_k"},"mark":{"type":"circle","color":"#000","size":20,"opacity":1},
   "encoding":{"x":{"field":"x","type":"quantitative","scale":{"domain":[3.5,8],"nice":false,"zero":false},"axis":{"values":[4,5,6,7,8],"format":"d","title":"p𝐾ₐₚₚ (SH-SY5Y)"}},
    "y":{"field":"y","type":"quantitative","scale":{"domain":[-0.49,14.5],"nice":false,"zero":false},"axis":{"values":[0,2.5,5,7.5,10,12.5],"format":".1f","title":"−Log₁₀ (𝑃 value)"}}}},
  {"data":{"name":"D_ks"},"mark":{"type":"circle","color":"#000","size":11,"opacity":1},"encoding":{"x":{"field":"x","type":"quantitative"},"y":{"field":"y","type":"quantitative"}}},
  {"data":{"name":"D_curve"},"mark":{"type":"line","color":"#cd853f","strokeWidth":3,"clip":true,"interpolate":"monotone"},"encoding":{"x":{"field":"x","type":"quantitative"},"y":{"field":"y","type":"quantitative"}}},
  {"data":{"name":"D_c"},"mark":{"type":"circle","size":40,"opacity":1},"encoding":{"x":{"field":"x","type":"quantitative"},"y":{"field":"y","type":"quantitative"},"color":{"field":"g","type":"nominal","scale":{"domain":["b","o"],"range":["#0000ff","#ff4500"]},"legend":null}}},
  {"data":{"values":[{}]},"mark":{"type":"text","text":"nHU-MS (SH-SY5Y)","font":"DejaVu Sans","fontSize":28,"baseline":"alphabetic","align":"center"},"encoding":{"x":{"datum":5.75},"y":{"datum":15.23}}},
  {"data":{"values":[{}]},"mark":{"type":"text","text":"D","font":"Liberation Sans","fontWeight":"bold","fontSize":20,"baseline":"middle","align":"center"},"encoding":{"x":{"datum":2.03},"y":{"datum":17.23}}}
 ]},
{"width":261,"height":227,
 "layer":[
  {"data":{"values":[{}]},"mark":{"type":"rule","color":"#808080","strokeWidth":3,"strokeDash":[3,5]},
   "encoding":{"x":{"datum":4.5,"type":"quantitative","scale":{"domain":[4.5,6.5],"nice":false,"zero":false},"axis":{"values":[4.5,5,5.5,6,6.5],"format":".1f","title":"p𝐾ₐₚₚ (Jurkat)"}},
    "y":{"datum":4.5,"type":"quantitative","scale":{"domain":[4.5,6.5],"nice":false,"zero":false},"axis":{"values":[4.5,5,5.5,6,6.5],"format":".1f","title":"p𝐾ₐₚₚ  (SH-SY5Y)"}},
    "x2":{"datum":6.5},"y2":{"datum":6.5}}},
  {"data":{"name":"E_c"},"mark":{"type":"circle","size":40,"opacity":1},"encoding":{"x":{"field":"x","type":"quantitative"},"y":{"field":"y","type":"quantitative"},"color":{"field":"g","type":"nominal","scale":{"domain":["b","o"],"range":["#0000ff","#ff4500"]},"legend":null}}},
  {"data":{"values":[{"x":6.137,"y":6.336,"t":"Vimentin"},{"x":5.79,"y":5.998,"t":"ABRAXAS2"},{"x":6.38,"y":4.985,"t":"𝑘 = 1.00"},{"x":6.38,"y":4.80,"t":"𝑅² = 0.73"},{"x":6.38,"y":4.626,"t":"PCC = 0.86"}]},
   "mark":{"type":"text","align":"right","baseline":"middle"},"encoding":{"x":{"field":"x","type":"quantitative"},"y":{"field":"y","type":"quantitative"},"text":{"field":"t"}}},
  {"data":{"values":[{"x":5.439,"y":5.243,"t":"KARS1"}]},
   "mark":{"type":"text","align":"left","baseline":"middle"},"encoding":{"x":{"field":"x","type":"quantitative"},"y":{"field":"y","type":"quantitative"},"text":{"field":"t"}}},
  {"data":{"values":[{"x":5.441,"y":5.149,"x2":5.331,"y2":4.811}]},"mark":{"type":"rule","color":"#111","strokeWidth":1},"encoding":{"x":{"field":"x","type":"quantitative"},"y":{"field":"y","type":"quantitative"},"x2":{"field":"x2"},"y2":{"field":"y2"}}},
  {"data":{"values":[{"x":5.331,"y":4.811}]},"mark":{"type":"point","shape":"M0,0L-0.35,1L0.35,1Z","filled":true,"color":"#111","opacity":1,"size":576,"angle":201.7},"encoding":{"x":{"field":"x","type":"quantitative"},"y":{"field":"y","type":"quantitative"}}},
  {"data":{"values":[{}]},"mark":{"type":"text","text":"E","font":"Liberation Sans","fontWeight":"bold","fontSize":20,"baseline":"middle","align":"center"},"encoding":{"x":{"datum":3.80},"y":{"datum":6.848}}}
 ]},
{"width":261,"height":227,
 "layer":[
  {"data":{"values":[{}]},"mark":{"type":"rule","color":"#808080","strokeWidth":3,"strokeDash":[3,5]},
   "encoding":{"x":{"datum":4.5,"type":"quantitative","scale":{"domain":[4.5,6.5],"nice":false,"zero":false},"axis":{"values":[4.5,5,5.5,6,6.5],"format":".1f","title":"p𝐾ₐₚₚ (series 1)"}},
    "y":{"datum":4.5,"type":"quantitative","scale":{"domain":[4.5,6.5],"nice":false,"zero":false},"axis":{"values":[4.5,5,5.5,6,6.5],"format":".1f","title":"p𝐾ₐₚₚ  (series 2)"}},
    "x2":{"datum":6.5},"y2":{"datum":6.5}}},
  {"data":{"name":"F_c"},"mark":{"type":"circle","size":40,"opacity":1},"encoding":{"x":{"field":"x","type":"quantitative"},"y":{"field":"y","type":"quantitative"},"color":{"field":"g","type":"nominal","scale":{"domain":["b","o"],"range":["#0000ff","#ff4500"]},"legend":null}}},
  {"data":{"values":[{"x":4.607,"y":6.344,"t":"𝑘 = 0.98"},{"x":4.607,"y":6.165,"t":"𝑅² = 0.59"},{"x":4.607,"y":5.99,"t":"PCC = 0.79"}]},
   "mark":{"type":"text","align":"left","baseline":"middle"},"encoding":{"x":{"field":"x","type":"quantitative"},"y":{"field":"y","type":"quantitative"},"text":{"field":"t"}}},
  {"data":{"values":[{"x":5.99,"y":6.36,"t":"Vimentin"},{"x":4.825,"y":5.499,"t":"KARS1"},{"x":5.88,"y":4.861,"t":"ARHGEF7"},{"x":6.106,"y":5.137,"t":"ABRAXAS2"}]},
   "mark":{"type":"text","align":"center","baseline":"middle"},"encoding":{"x":{"field":"x","type":"quantitative"},"y":{"field":"y","type":"quantitative"},"text":{"field":"t"}}},
  {"data":{"values":[{"x":6.014,"y":6.271,"x2":6.2,"y2":6.074},{"x":5.063,"y":5.472,"x2":5.262,"y2":5.34},{"x":5.623,"y":4.985,"x2":5.623,"y2":5.258},{"x":5.873,"y":5.243,"x2":5.873,"y2":5.425}]},"mark":{"type":"rule","color":"#111","strokeWidth":1},"encoding":{"x":{"field":"x","type":"quantitative"},"y":{"field":"y","type":"quantitative"},"x2":{"field":"x2"},"y2":{"field":"y2"}}},
  {"data":{"values":[{"x":6.2,"y":6.074}]},"mark":{"type":"point","shape":"M0,0L-0.35,1L0.35,1Z","filled":true,"color":"#111","opacity":1,"size":576,"angle":132.5},"encoding":{"x":{"field":"x","type":"quantitative"},"y":{"field":"y","type":"quantitative"}}},
  {"data":{"values":[{"x":5.262,"y":5.34}]},"mark":{"type":"point","shape":"M0,0L-0.35,1L0.35,1Z","filled":true,"color":"#111","opacity":1,"size":576,"angle":120},"encoding":{"x":{"field":"x","type":"quantitative"},"y":{"field":"y","type":"quantitative"}}},
  {"data":{"values":[{"x":5.623,"y":5.258},{"x":5.873,"y":5.425}]},"mark":{"type":"point","shape":"M0,0L-0.35,1L0.35,1Z","filled":true,"color":"#111","opacity":1,"size":576,"angle":0},"encoding":{"x":{"field":"x","type":"quantitative"},"y":{"field":"y","type":"quantitative"}}},
  {"data":{"values":[{}]},"mark":{"type":"text","text":"F","font":"Liberation Sans","fontWeight":"bold","fontSize":20,"baseline":"middle","align":"center"},"encoding":{"x":{"datum":3.833},"y":{"datum":6.848}}}
 ]}
],
"config": {
 "view": {"stroke": "#1a1a1a", "strokeWidth": 1.3},
 "axis": {"grid": false, "domain": false, "labelFlush": false, "labelOverlap": false, "tickColor": "#1a1a1a", "tickWidth": 1.2, "labelFont": "DejaVu Sans", "labelFontSize": 16, "labelColor": "#111", "titleFont": "DejaVu Sans", "titleFontSize": 25, "titleFontWeight": "normal", "titleColor": "#111"},
 "axisX": {"tickSize": 6, "labelPadding": 8, "titlePadding": 6},
 "axisY": {"tickSize": 7, "labelPadding": 4, "titlePadding": 17},
 "text": {"font": "Liberation Sans", "fontSize": 16, "color": "#111"}
}
}
